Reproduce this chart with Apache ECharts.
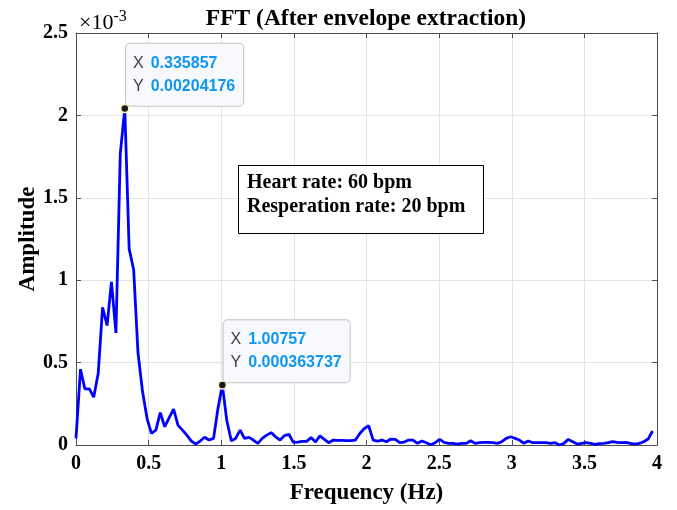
<!DOCTYPE html>
<html>
<head>
<meta charset="utf-8">
<script src="https://cdn.jsdelivr.net/npm/echarts@6/dist/echarts.min.js"></script>
<style>html,body{margin:0;padding:0;background:#fff;}#c{width:677px;height:510px;}</style>
</head>
<body>
<div id="c"></div>
<script>
// Frequency bins (Hz)
const frequency = [
  0.000, 0.031, 0.061, 0.092, 0.122, 0.153, 0.183, 0.214, 0.244, 0.275,
  0.305, 0.335857, 0.366, 0.397, 0.427, 0.458, 0.489, 0.519, 0.550, 0.580,
  0.611, 0.641, 0.672, 0.702, 0.733, 0.763, 0.794, 0.824, 0.855, 0.885,
  0.916, 0.947, 0.977, 1.00757, 1.038, 1.069, 1.099, 1.130, 1.160, 1.191,
  1.221, 1.252, 1.282, 1.313, 1.343, 1.374, 1.405, 1.435, 1.466, 1.496,
  1.527, 1.557, 1.588, 1.618, 1.649, 1.679, 1.710, 1.740, 1.771, 1.801,
  1.832, 1.863, 1.893, 1.924, 1.954, 1.985, 2.015, 2.046, 2.076, 2.107,
  2.137, 2.168, 2.198, 2.229, 2.259, 2.290, 2.320, 2.351, 2.382, 2.412,
  2.443, 2.473, 2.504, 2.534, 2.565, 2.595, 2.626, 2.656, 2.687, 2.717,
  2.748, 2.778, 2.809, 2.840, 2.870, 2.901, 2.931, 2.962, 2.992, 3.023,
  3.053, 3.084, 3.114, 3.145, 3.175, 3.206, 3.236, 3.267, 3.298, 3.328,
  3.359, 3.389, 3.420, 3.450, 3.481, 3.511, 3.542, 3.572, 3.603, 3.633,
  3.664, 3.694, 3.725, 3.755, 3.786, 3.817, 3.847, 3.878, 3.908, 3.939,
  3.969
];
// Amplitude in units of 1e-3
const amplitudeE3 = [
  0.04, 0.46, 0.34, 0.34, 0.29, 0.435, 0.836, 0.725, 0.99, 0.68,
  1.77, 2.04176, 1.19, 1.063, 0.557, 0.324, 0.162, 0.071, 0.09, 0.196,
  0.111, 0.164, 0.217, 0.12, 0.09, 0.06, 0.024, 0.006, 0.024, 0.047,
  0.03, 0.04, 0.22, 0.363737, 0.15, 0.026, 0.04, 0.09, 0.04, 0.046,
  0.03, 0.01, 0.04, 0.06, 0.075, 0.05, 0.03, 0.057, 0.065, 0.016,
  0.018, 0.022, 0.022, 0.045, 0.018, 0.055, 0.034, 0.014, 0.03, 0.028,
  0.028, 0.026, 0.026, 0.03, 0.07, 0.1, 0.117, 0.03, 0.024, 0.03,
  0.02, 0.036, 0.034, 0.014, 0.018, 0.03, 0.03, 0.01, 0.024, 0.014,
  0.002, 0.014, 0.034, 0.016, 0.01, 0.01, 0.006, 0.01, 0.01, 0.026,
  0.01, 0.014, 0.016, 0.016, 0.014, 0.01, 0.02, 0.04, 0.05, 0.04,
  0.03, 0.01, 0.024, 0.014, 0.014, 0.014, 0.014, 0.01, 0.014, 0.0,
  0.01, 0.034, 0.02, 0.006, 0.01, 0.014, 0.01, 0.004, 0.008, 0.01,
  0.014, 0.02, 0.016, 0.014, 0.016, 0.01, 0.006, 0.01, 0.02, 0.036,
  0.085
];
// Data tips
const tipX = [0.335857, 1.00757];
const tipYE3 = [2.04176, 0.363737];
const tipXText = ['0.335857', '1.00757'];
const tipYText = ['0.00204176', '0.000363737'];

const titleText = 'FFT (After envelope extraction)';
const xName = 'Frequency (Hz)';
const yName = 'Amplitude';
const noteLines = ['Heart rate: 60 bpm', 'Resperation rate: 20 bpm'];

const serif = '"Liberation Serif", "Times New Roman", serif';
const sans = '"Liberation Sans", Arial, sans-serif';
const axisColor = '#4d4d4d';
const gridColor = '#e3e3e3';

const lineData = frequency.map((f, i) => [f, amplitudeE3[i]]);

const tipData = tipX.map((x, i) => ({
  coord: [x, tipYE3[i]],
  label: {
    show: true,
    position: [6, -60],
    formatter: '{k|X}{v|' + tipXText[i] + '}\n{k|Y}{v|' + tipYText[i] + '}',
    backgroundColor: 'rgba(248,249,252,0.97)',
    borderColor: '#c4c4c4',
    borderWidth: 1,
    borderRadius: 4,
    padding: [8, 8, 8, 7],
    lineHeight: 23,
    rich: {
      k: { fontFamily: sans, fontSize: 16, color: '#404040', lineHeight: 23, padding: [0, 7, 0, 0] },
      v: { fontFamily: sans, fontSize: 16, fontWeight: 'bold', color: '#0d96f2', lineHeight: 23 }
    }
  }
}));

const chart = echarts.init(document.getElementById('c'), null, { renderer: 'canvas' });
chart.setOption({
  animation: false,
  backgroundColor: '#ffffff',
  title: [
    {
      text: titleText,
      left: 361,
      top: 2,
      textAlign: 'center',
      textStyle: { fontFamily: serif, fontWeight: 'bold', fontSize: 23.5, color: '#000' }
    },
    {
      text: '×10{s|-3}',
      left: 74,
      top: 4,
      textStyle: {
        fontFamily: serif, fontSize: 22, color: '#000', fontWeight: 'normal',
        rich: { s: { fontFamily: serif, fontSize: 16, color: '#000', verticalAlign: 'top', padding: [0, 0, 12, 0] } }
      }
    },
    {
      text: noteLines.join('\n'),
      left: 238,
      top: 165,
      backgroundColor: '#ffffff',
      borderColor: '#000000',
      borderWidth: 1,
      padding: [6, 18, 15, 9],
      textStyle: { fontFamily: serif, fontWeight: 'bold', fontSize: 20, lineHeight: 24, color: '#000' }
    }
  ],
  grid: { left: 76, right: 20, top: 33, bottom: 65, containLabel: false },
  xAxis: [
    {
      type: 'value', min: 0, max: 4, interval: 0.5,
      name: xName, nameLocation: 'middle', nameGap: 37, nameMoveOverlap: false,
      nameTextStyle: { fontFamily: serif, fontWeight: 'bold', fontSize: 23, color: '#000' },
      axisLine: { show: true, onZero: false, lineStyle: { color: axisColor, width: 1 } },
      axisTick: { show: true, inside: true, length: 5, lineStyle: { color: axisColor } },
      axisLabel: { fontFamily: serif, fontWeight: 'bold', fontSize: 20, color: '#000', margin: 9 },
      splitLine: { show: true, lineStyle: { color: gridColor, width: 1 } }
    },
    {
      type: 'value', min: 0, max: 4, interval: 0.5, position: 'top',
      axisLine: { show: true, onZero: false, lineStyle: { color: axisColor, width: 1 } },
      axisTick: { show: true, inside: true, length: 5, lineStyle: { color: axisColor } },
      axisLabel: { show: false },
      splitLine: { show: false }
    }
  ],
  yAxis: [
    {
      type: 'value', min: 0, max: 2.5, interval: 0.5,
      name: yName, nameLocation: 'middle', nameGap: 36, nameRotate: 90, nameMoveOverlap: false,
      nameTextStyle: { fontFamily: serif, fontWeight: 'bold', fontSize: 23, color: '#000' },
      axisLine: { show: true, onZero: false, lineStyle: { color: axisColor, width: 1 } },
      axisTick: { show: true, inside: true, length: 5, lineStyle: { color: axisColor } },
      axisLabel: { fontFamily: serif, fontWeight: 'bold', fontSize: 20, color: '#000', margin: 8 },
      splitLine: { show: true, lineStyle: { color: gridColor, width: 1 } }
    },
    {
      type: 'value', min: 0, max: 2.5, interval: 0.5, position: 'right',
      axisLine: { show: true, onZero: false, lineStyle: { color: axisColor, width: 1 } },
      axisTick: { show: true, inside: true, length: 5, lineStyle: { color: axisColor } },
      axisLabel: { show: false },
      splitLine: { show: false }
    }
  ],
  series: [
    {
      type: 'line',
      xAxisIndex: 0,
      yAxisIndex: 0,
      data: lineData,
      showSymbol: false,
      symbol: 'none',
      lineStyle: { color: '#0000ff', width: 2.8 },
      z: 3,
      markPoint: {
        symbol: 'circle',
        symbolSize: 8,
        itemStyle: { color: '#1a1a1a', borderColor: '#fff7b0', borderWidth: 1.5 },
        data: tipData,
        z: 10
      }
    }
  ]
});
</script>
</body>
</html>
